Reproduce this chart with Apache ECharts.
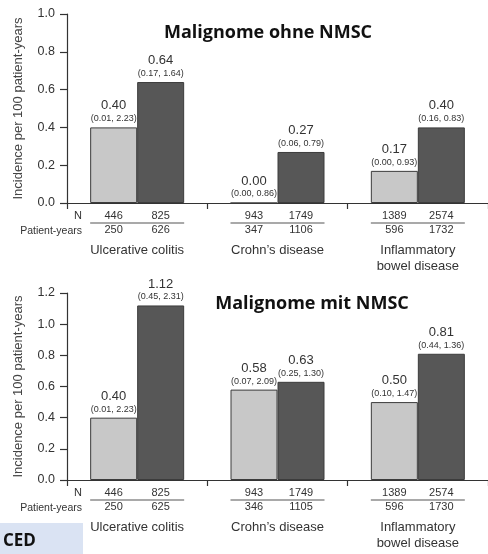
<!DOCTYPE html>
<html>
<head>
<meta charset="utf-8">
<style>
  html, body { margin: 0; padding: 0; background: #fff; }
  #chart { width: 488px; height: 554px; }
</style>
<script src="https://cdn.jsdelivr.net/npm/echarts@6/dist/echarts.min.js"></script>
</head>
<body>
<div id="chart"></div>
<script>
// Disease groups on the x axis
const categories = ['Ulcerative colitis', 'Crohn\u2019s disease', 'Inflammatory\nbowel disease'];

// Panel 1: malignancies excluding NMSC (incidence per 100 patient-years)
const ohneLight = [0.40, 0.00, 0.17];
const ohneLightCI = ['(0.01, 2.23)', '(0.00, 0.86)', '(0.00, 0.93)'];
const ohneDark = [0.64, 0.27, 0.40];
const ohneDarkCI = ['(0.17, 1.64)', '(0.06, 0.79)', '(0.16, 0.83)'];
const ohnePYLight = [250, 347, 596];
const ohnePYDark = [626, 1106, 1732];

// Panel 2: malignancies including NMSC
const mitLight = [0.40, 0.58, 0.50];
const mitLightCI = ['(0.01, 2.23)', '(0.07, 2.09)', '(0.10, 1.47)'];
const mitDark = [1.12, 0.63, 0.81];
const mitDarkCI = ['(0.45, 2.31)', '(0.25, 1.30)', '(0.44, 1.36)'];
const mitPYLight = [250, 346, 596];
const mitPYDark = [625, 1105, 1730];

// Patient counts (same in both panels)
const nLight = [446, 943, 1389];
const nDark = [825, 1749, 2574];

// Y axis ticks
const ohneMax = 1.0;
const mitMax = 1.2;
const tickStep = 0.2;

const FONT = "'Liberation Sans', Arial, sans-serif";
const TXT = '#333';
const LIGHT = '#c8c8c8';
const DARK = '#575757';
const EDGE = '#3c3c3c';

const grids = [
  { left: 67, top: 14, width: 426, height: 189 },
  { left: 67, top: 293, width: 426, height: 187 }
];

function tableFormatter(pyL, pyD) {
  return function (val, idx) {
    const name = String(val).split('\n').map(s => '{cat|' + s + '}').join('\n');
    return '{n|' + nLight[idx] + '}{n|' + nDark[idx] + '}\n{ln| }\n' +
           '{n|' + pyL[idx] + '}{n|' + pyD[idx] + '}\n{sp| }\n' + name;
  };
}

function xAxisFor(gridIndex, pyL, pyD) {
  return {
    type: 'category',
    gridIndex: gridIndex,
    data: categories,
    axisLine: { lineStyle: { color: TXT, width: 1.2 } },
    axisTick: { show: true, length: 6, lineStyle: { color: TXT, width: 1.2 } },
    axisLabel: {
      interval: 0,
      margin: 7,
      hideOverlap: false,
      color: TXT,
      fontFamily: FONT,
      formatter: tableFormatter(pyL, pyD),
      rich: {
        n: { width: 47, align: 'center', fontSize: 11, lineHeight: 12, color: TXT, fontFamily: FONT },
        ln: { width: 94, height: 1, lineHeight: 2, fontSize: 1, backgroundColor: '#555' },
        sp: { lineHeight: 6, fontSize: 1 },
        cat: { fontSize: 13, lineHeight: 16, color: TXT, fontFamily: FONT }
      }
    }
  };
}

function yAxisFor(gridIndex, max) {
  return {
    type: 'value',
    gridIndex: gridIndex,
    min: 0,
    max: max,
    interval: tickStep,
    name: 'Incidence per 100 patient-years',
    nameLocation: 'middle',
    nameGap: 42,
    nameTextStyle: { fontSize: 13, color: '#444', fontFamily: FONT },
    axisLine: { show: true, lineStyle: { color: TXT, width: 1.2 } },
    axisTick: { show: true, length: 7, lineStyle: { color: TXT, width: 1.2 } },
    splitLine: { show: false },
    axisLabel: {
      margin: 12,
      fontSize: 12.5,
      color: TXT,
      fontFamily: FONT,
      formatter: v => v.toFixed(1)
    }
  };
}

function barSeries(axisIndex, values, cis, color) {
  return {
    type: 'bar',
    xAxisIndex: axisIndex,
    yAxisIndex: axisIndex,
    data: values,
    barWidth: 47,
    barGap: '0%',
    silent: true,
    itemStyle: { color: color, borderColor: EDGE, borderWidth: 1 },
    label: {
      show: true,
      position: 'top',
      distance: 3,
      formatter: p => '{v|' + p.value.toFixed(2) + '}\n{ci|' + cis[p.dataIndex] + '}',
      rich: {
        v: { fontSize: 13, lineHeight: 15, color: TXT, fontFamily: FONT, align: 'center' },
        ci: { fontSize: 9, lineHeight: 11, color: TXT, fontFamily: FONT, align: 'center' }
      }
    }
  };
}

function rowHeaders(axisY) {
  return [
    { type: 'text', x: 82, y: axisY + 13, style: { text: 'N', fill: TXT, font: '11px ' + FONT, align: 'right', verticalAlign: 'middle' } },
    { type: 'text', x: 82, y: axisY + 28, style: { text: 'Patient-years', fill: TXT, font: '10.5px ' + FONT, align: 'right', verticalAlign: 'middle' } }
  ];
}

const chart = echarts.init(document.getElementById('chart'), null, { renderer: 'canvas' });
chart.setOption({
  animation: false,
  backgroundColor: '#fff',
  grid: grids,
  xAxis: [xAxisFor(0, ohnePYLight, ohnePYDark), xAxisFor(1, mitPYLight, mitPYDark)],
  yAxis: [yAxisFor(0, ohneMax), yAxisFor(1, mitMax)],
  series: [
    barSeries(0, ohneLight, ohneLightCI, LIGHT),
    barSeries(0, ohneDark, ohneDarkCI, DARK),
    barSeries(1, mitLight, mitLightCI, LIGHT),
    barSeries(1, mitDark, mitDarkCI, DARK)
  ],
  graphic: [
    { type: 'text', x: 268, y: 33, style: { text: 'Malignome ohne NMSC', fill: '#111', font: "bold 18px 'Open Sans', sans-serif", align: 'center', verticalAlign: 'middle' } },
    { type: 'text', x: 312, y: 304, style: { text: 'Malignome mit NMSC', fill: '#111', font: "bold 18px 'Open Sans', sans-serif", align: 'center', verticalAlign: 'middle' } },
    ...rowHeaders(203),
    ...rowHeaders(480),
    { type: 'rect', shape: { x: 0, y: 523, width: 83, height: 31 }, style: { fill: '#dae3f3' } },
    { type: 'text', x: 3, y: 541, style: { text: 'CED', fill: '#111', font: "bold 17px 'Open Sans', sans-serif", align: 'left', verticalAlign: 'middle' } }
  ]
});
</script>
</body>
</html>
